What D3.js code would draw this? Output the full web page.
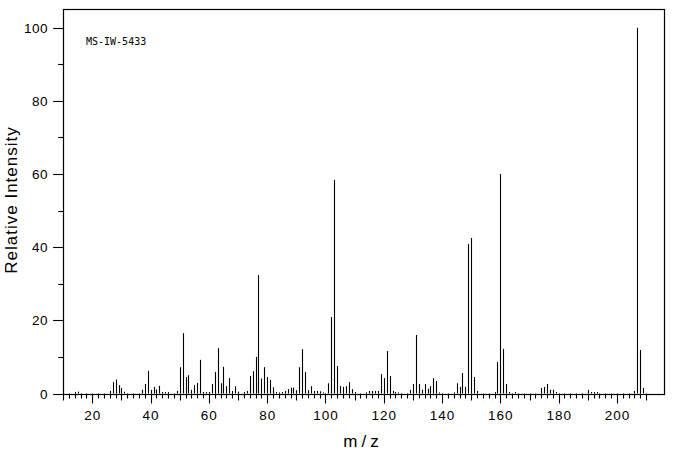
<!DOCTYPE html>
<html><head><meta charset="utf-8">
<script src="https://cdn.jsdelivr.net/npm/d3@7"></script>
<style>body{margin:0;background:#fff}svg{display:block}</style>
</head><body>
<script>
const mz = [14,15,26,27,28,29,30,31,37,38,39,40,41,42,43,44,45,46,49,50,51,52,53,54,55,56,57,58,59,60,61,62,63,64,65,66,67,68,69,70,72,73,74,75,76,77,78,79,80,81,82,83,84,85,86,87,88,89,90,91,92,93,94,95,96,97,98,99,101,102,103,104,105,106,107,108,109,110,114,115,116,117,118,119,120,121,122,123,124,125,129,130,131,132,133,134,135,136,137,138,139,144,145,146,147,148,149,150,151,152,158,159,160,161,162,163,165,174,175,176,177,178,179,190,191,192,193,206,207,208,209];
const intensity = [0.4,0.5,0.7,3.1,3.8,2.3,1.5,0.5,1.0,2.6,6.2,1.0,1.8,1.1,2.1,0.4,0.4,0.4,0.7,7.2,16.5,4.5,5.0,1.0,2.3,2.9,9.2,0.4,0.4,0.4,2.6,5.9,12.4,2.8,7.3,2.0,4.2,0.7,2.0,0.5,0.4,0.7,4.8,6.1,10.0,32.4,4.1,7.2,4.5,3.7,1.7,0.4,0.3,0.4,0.7,1.2,1.6,1.6,0.9,7.2,12.1,5.9,0.9,2.0,0.7,0.7,0.6,0.3,2.8,20.9,58.4,7.5,2.0,1.8,2.0,3.1,1.2,0.4,0.3,0.7,0.7,0.7,0.7,5.3,4.2,11.6,4.8,0.7,0.4,0.3,1.0,2.6,16.0,2.6,1.0,2.6,1.3,2.0,4.2,3.4,0.3,0.3,2.8,1.8,5.6,1.8,40.9,42.5,4.5,0.7,0.4,8.6,60.0,12.2,2.6,0.4,0.4,1.5,1.8,2.6,1.0,1.0,0.4,1.0,0.4,0.4,0.4,0.7,100,11.9,1.5];
const xTickLabels = [20,40,60,80,100,120,140,160,180,200];
const yTickLabels = [0,20,40,60,80,100];
const title = "MS-IW-5433";

const W = 676, H = 455;
const x = d3.scaleLinear().domain([10, 216]).range([63.15, 663.6]);
const y = d3.scaleLinear().domain([0, 105]).range([393.5, 9.4]);

const svg = d3.select("body").append("svg").attr("width", W).attr("height", H);
const px = v => Math.round(v) + 0.5;

// frame
svg.append("rect").attr("x", px(x(10))).attr("y", px(y(105)))
  .attr("width", Math.round(x(216)) - Math.round(x(10)))
  .attr("height", Math.round(y(0)) - Math.round(y(105)))
  .attr("fill", "none").attr("stroke", "#000").attr("stroke-width", 1.2);

// bars
svg.append("g").selectAll("line").data(mz).join("line")
  .attr("x1", (d) => px(x(d))).attr("x2", (d) => px(x(d)))
  .attr("y1", y(0)).attr("y2", (d, i) => y(intensity[i]))
  .attr("stroke", "#000").attr("stroke-width", 1.1);

// x ticks
const xt = d3.range(10, 211, 2);
svg.append("g").selectAll("line").data(xt).join("line")
  .attr("x1", d => px(x(d))).attr("x2", d => px(x(d)))
  .attr("y1", y(0)).attr("y2", d => y(0) + (d % 20 === 0 ? 10 : d % 10 === 0 ? 7 : 5))
  .attr("stroke", "#000").attr("stroke-width", 1.1);
svg.append("g").selectAll("text").data(xTickLabels).join("text")
  .attr("x", d => x(d) + 0.5).attr("y", 420)
  .attr("text-anchor", "middle")
  .style("font-family", "'Liberation Sans', Arial, sans-serif")
  .style("font-size", "13.5px").style("letter-spacing", "1px")
  .text(d => d);

// y ticks
const yt = d3.range(0, 101, 10);
svg.append("g").selectAll("line").data(yt).join("line")
  .attr("x1", x(10)).attr("x2", d => x(10) - (d % 20 === 0 ? 10 : 5))
  .attr("y1", d => px(y(d))).attr("y2", d => px(y(d)))
  .attr("stroke", "#000").attr("stroke-width", 1.1);
svg.append("g").selectAll("text").data(yTickLabels).join("text")
  .attr("x", 48).attr("y", d => y(d) + 5)
  .attr("text-anchor", "end")
  .style("font-family", "'Liberation Sans', Arial, sans-serif")
  .style("font-size", "13.5px").style("letter-spacing", "0.5px")
  .text(d => d);

// axis titles
svg.append("text").attr("x", 363).attr("y", 447).attr("text-anchor", "middle")
  .style("font-family", "'Liberation Sans', Arial, sans-serif")
  .style("font-size", "17px").style("letter-spacing", "4px")
  .text("m/z");
svg.append("text").attr("transform", "translate(17,200) rotate(-90)")
  .attr("text-anchor", "middle")
  .style("font-family", "'Liberation Sans', Arial, sans-serif")
  .style("font-size", "17px").style("letter-spacing", "1px")
  .text("Relative Intensity");

svg.append("text").attr("x", 86).attr("y", 44.5)
  .style("font-family", "'DejaVu Sans Mono', monospace")
  .style("font-size", "10px")
  .text(title);
</script>
</body></html>
